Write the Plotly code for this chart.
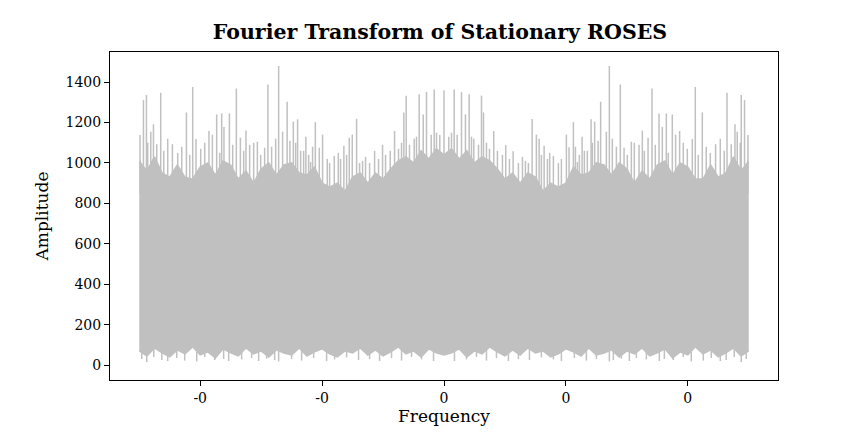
import numpy as np
import plotly.graph_objects as go

# FFT bins used for the dense band (lower / upper edge of the solid grey area)
band_freq = np.linspace(-0.5, 0.5, 81)
band_top = [1010, 960, 1030, 950, 930, 990, 930, 920, 980, 1000, 940, 1010, 990, 920,
            960, 900, 970, 1000, 940, 990, 1000, 950, 940, 980, 900, 880, 900, 860,
            930, 950, 900, 950, 920, 970, 1010, 1030, 1000, 1060, 1020, 1070, 1040,
            1070, 1020, 1060, 1000, 1030, 1010, 970, 920, 950, 900, 950, 930, 860,
            900, 880, 900, 980, 940, 950, 1000, 990, 940, 1000, 970, 900, 960, 920,
            990, 1010, 940, 1000, 980, 920, 920, 990, 930, 950, 1030, 960, 1010]
band_floor = [70, 45, 85, 60, 40, 75, 55, 90, 50, 65, 35, 80, 60, 45, 85, 55, 70, 40,
              75, 60, 50, 85, 45, 65, 80, 55, 40, 70, 60, 85, 50, 75, 45, 65, 90, 55,
              70, 40, 80, 60, 50,
              60, 80, 40, 70, 55, 90, 65, 45, 75, 50, 85, 60, 70, 40, 55, 80, 65, 45,
              85, 50, 60, 75, 40, 70, 55, 85, 45, 60, 80, 35, 65, 50, 90, 55, 75, 40,
              60, 85, 45, 70]

# tall peaks sticking out of the band
spike_freq = [-0.4987, -0.4931, -0.4882, -0.4811, -0.4767, -0.4713, -0.4648, -0.4456,
              -0.4226, -0.4123, -0.4069, -0.3856, -0.3800, -0.3730, -0.3648, -0.3610,
              -0.3521, -0.3407, -0.3341, -0.3249, -0.3189, -0.3062, -0.2943, -0.2889,
              -0.2713, -0.2648, -0.2574, -0.2528, -0.2472, -0.2402, -0.2352, -0.2266,
              -0.2189, -0.2111, -0.2046, -0.1992, -0.1915, -0.1800, -0.1734, -0.1643,
              -0.1554, -0.1505, -0.1434, -0.1287, -0.1139, -0.1008, -0.0882, -0.0811,
              -0.0659, -0.0620, -0.0489, -0.0407, -0.0341, -0.0287, -0.0210, -0.0161,
              -0.0069, 0.0,
              0.0079, 0.0167, 0.0216, 0.0287, 0.0352, 0.0413, 0.0489, 0.0615, 0.0648,
              0.0816, 0.0877, 0.1013, 0.1134, 0.1287, 0.1446, 0.1516, 0.1561, 0.1643,
              0.1734, 0.1795, 0.1926, 0.2008, 0.2052, 0.2123, 0.2189, 0.2266, 0.2352,
              0.2413, 0.2472, 0.2528, 0.2570, 0.2664, 0.2713, 0.2893, 0.2954, 0.3074,
              0.3200, 0.3254, 0.3348, 0.3413, 0.3528, 0.3582, 0.3648, 0.3746, 0.3800,
              0.3866, 0.4074, 0.4123, 0.4238, 0.4456, 0.4643, 0.4713, 0.4774, 0.4811,
              0.4877, 0.4931, 0.4987]
spike_amp = [1138, 1311, 1336, 1154, 1191, 1093, 1347, 1093,
             1250, 1376, 1118, 1158, 1140, 1240, 1245, 1178,
             1245, 1368, 1125, 1160, 1090, 1105, 1075, 1388,
             1480, 1155, 1303, 1110, 1205, 1216, 1060, 1130,
             1005, 1202, 1075, 1140, 1020, 1035, 1050, 1085,
             1125, 1140, 1218, 1030, 1060, 1090, 1060, 1158,
             1250, 1333, 1120, 1340, 1240, 1352, 1140, 1364,
             1138, 1360,
             1130, 1364, 1140, 1350, 1240, 1340, 1120, 1333, 1250,
             1158, 1060, 1088, 1058, 1030, 1218, 1140, 1120, 1085,
             1050, 1035, 1020, 1140, 1078, 1202, 1005, 1130, 1060,
             1216, 1205, 1110, 1303, 1155, 1480, 1388, 1075, 1105,
             1090, 1160, 1125, 1368, 1245, 1178, 1245, 1240, 1140,
             1158, 1118, 1376, 1250, 1093, 1347, 1093, 1191, 1154,
             1336, 1311, 1138]

# medium peaks forming the fuzzy top of the band
minor_freq = [-0.4861, -0.4598, -0.4533, -0.4369, -0.4303, -0.4172, -0.3992, -0.3926,
              -0.3680, -0.3467, -0.3287, -0.3123, -0.3008, -0.2828, -0.2762, -0.2434,
              -0.2303, -0.2221, -0.2156, -0.1877, -0.1697, -0.1598, -0.1385, -0.1336,
              -0.1221, -0.1074, -0.0959, -0.0746, -0.0697, -0.0566, -0.0451, -0.0123,
              0.0123, 0.0451, 0.0566, 0.0697, 0.0746, 0.0959, 0.1074, 0.1221,
              0.1336, 0.1385, 0.1598, 0.1697, 0.1877, 0.2156, 0.2221, 0.2303,
              0.2434, 0.2762, 0.2828, 0.3008, 0.3123, 0.3287, 0.3467, 0.3680,
              0.3926, 0.3992, 0.4172, 0.4303, 0.4369, 0.4533, 0.4598, 0.4861]
minor_amp = [1100, 1060, 1120, 1050, 1080, 1040, 1070, 1100, 1050, 1090, 1060, 1100,
             1040, 1080, 1120, 1100, 1060, 1040, 1080, 1000, 1020, 1040, 1000, 1010,
             1000, 1020, 1040, 1070, 1100, 1090, 1130, 1150,
             1150, 1130, 1090, 1100, 1070, 1040, 1020, 1000, 1010, 1000, 1040, 1020,
             1000, 1080, 1040, 1060, 1100, 1120, 1080, 1040, 1100, 1060, 1090, 1050,
             1100, 1070, 1040, 1080, 1050, 1120, 1060, 1100]

# low excursions below the band
dip_freq = [-0.4959, -0.4877, -0.4762, -0.4631, -0.4533, -0.4385, -0.4254, -0.4057,
            -0.3926, -0.3762, -0.3615, -0.3533, -0.3320, -0.3156, -0.3041, -0.2910,
            -0.2779, -0.2713, -0.2500, -0.2336, -0.2139, -0.1926, -0.1795, -0.1598,
            -0.1402, -0.1221, -0.1057, -0.0861, -0.0697, -0.0533, -0.0369, -0.0172,
            0.0172, 0.0369, 0.0533, 0.0697, 0.0861, 0.1057, 0.1221, 0.1402,
            0.1598, 0.1795, 0.1926, 0.2139, 0.2336, 0.2500, 0.2713, 0.2779,
            0.2910, 0.3041, 0.3156, 0.3320, 0.3533, 0.3615, 0.3762, 0.3926,
            0.4057, 0.4254, 0.4385, 0.4533, 0.4631, 0.4762, 0.4877, 0.4959]
dip_amp = [30, 15, 40, 25, 20, 35, 22, 18, 40, 25, 30, 20, 28, 35, 20, 32,
           25, 18, 30, 22, 35, 20, 28, 38, 25, 30, 20, 35, 22, 40, 28, 20,
           20, 28, 40, 22, 35, 20, 30, 25, 38, 28, 20, 35, 22, 30, 18, 25,
           32, 20, 35, 28, 20, 30, 25, 40, 18, 22, 35, 20, 25, 40, 15, 30]

tick_vals = [-0.4, -0.2, 0, 0.2, 0.4]
tick_text = ["-0", "-0", "0", "0", "0"]

grey = "#c0c0c0"
font = "Georgia, 'DejaVu Serif', serif"


def sticks(freqs, amps, base):
    xs, ys = [], []
    for f, a in zip(freqs, amps):
        xs += [f, f, None]
        ys += [base, a, None]
    return xs, ys


fig = go.Figure()
fig.add_trace(go.Scatter(x=band_freq, y=band_floor, mode="lines",
                         line=dict(color=grey, width=1.5), hoverinfo="skip"))
fig.add_trace(go.Scatter(x=band_freq, y=band_top, mode="lines", fill="tonexty",
                         fillcolor=grey, line=dict(color=grey, width=1.5)))
for fr, am, base in [(spike_freq, spike_amp, 850), (minor_freq, minor_amp, 850),
                     (dip_freq, dip_amp, 200)]:
    xs, ys = sticks(fr, am, base)
    fig.add_trace(go.Scatter(x=xs, y=ys, mode="lines",
                             line=dict(color=grey, width=1.5)))

axis_style = dict(showline=True, mirror=True, linecolor="black", linewidth=1,
                  ticks="outside", ticklen=5, tickcolor="black", showgrid=False,
                  zeroline=False, automargin=False,
                  tickfont=dict(size=14, color="black"))

fig.update_layout(
    width=864, height=432,
    showlegend=False,
    plot_bgcolor="white", paper_bgcolor="white",
    font=dict(family=font, color="black"),
    margin=dict(l=102, r=94, t=44, b=60),
    title=dict(text="<b>Fourier Transform of Stationary ROSES</b>",
               font=dict(size=20.5, color="black"), x=0.5, xanchor="center",
               y=0.944, yanchor="middle"),
    xaxis=dict(range=[-0.548, 0.548], tickvals=tick_vals, ticktext=tick_text,
               title=dict(text="Frequency", font=dict(size=17), standoff=4),
               **axis_style),
    yaxis=dict(range=[-74, 1549], tickvals=[0, 200, 400, 600, 800, 1000, 1200, 1400],
               title=dict(text="Amplitude", font=dict(size=17), standoff=12),
               **axis_style),
)

fig.write_html("out.html")
